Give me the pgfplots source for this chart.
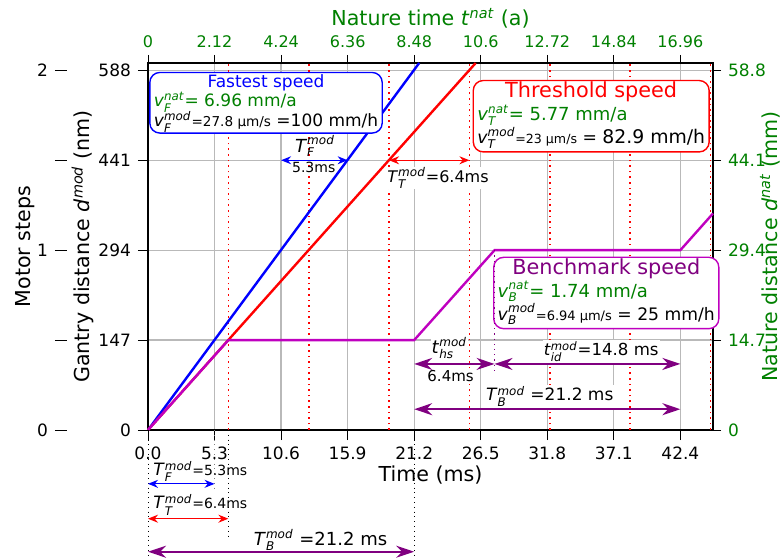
\documentclass[border=0pt]{standalone}
\usepackage{amsmath}
\usepackage{fontspec}
\setmainfont{DejaVu Sans}
\usepackage{pgfplots}
\pgfplotsset{compat=1.18}
\usetikzlibrary{arrows.meta}

\definecolor{mgreen}{RGB}{0,128,0}
\definecolor{mpurple}{RGB}{128,0,128}
\definecolor{mmag}{RGB}{191,0,191}
\newcommand{\fs}[1]{\fontsize{#1}{#1}\selectfont}
\newcommand{\sym}[3]{\textit{#1}$^{\textit{#3}}_{\textit{#2}}$}
% speed box: title colour, title, green line, black line
\newcommand{\speedbox}[4]{%
  \begin{tabular}{@{}l@{}}
  \multicolumn{1}{@{}c@{}}{\color{#1}#2}\\
  \smash{\color{mgreen}#3}\\
  \smash{#4}
  \end{tabular}}

\tikzset{
  sa/.style={{Stealth[length=5pt,width=4pt]}-{Stealth[length=5pt,width=4pt]}, line width=0.6pt},
  pa/.style={{Stealth[length=9pt,width=6pt]}-{Stealth[length=9pt,width=6pt]}, line width=0.9pt, mpurple},
  box/.style={rounded corners=5pt, fill=white, line width=0.7pt,
    inner xsep=2pt, inner ysep=0.6pt, font=\fontsize{8.5}{9.7}\selectfont},
  bigbox/.style={box, font=\fontsize{9}{11.5}\selectfont},
  lab/.style={font=\fs{10.3}},
}

\begin{document}
\begin{tikzpicture}
\path[use as bounding box] (-74pt,-63.5pt) rectangle (316pt,215pt);

% motor steps (offset left axis)
\begin{axis}[
  at={(-40.5pt,0pt)}, anchor=south west,
  scale only axis, width=10pt, height=183.5pt,
  xmin=0, xmax=1, ymin=0, ymax=600,
  hide x axis, axis y line*=left,
  y axis line style={draw=none},
  ytick={0,147,294,441,588}, yticklabels={0,,1,,2},
  tick align=outside, major tick length=6pt,
  tick style={black, line width=0.5pt},
  yticklabel style={font=\fs{8.5}},
  /pgf/number format/assume math mode=true,
]
\end{axis}

% nature axis (top / right)
\begin{axis}[
  scale only axis, width=282.5pt, height=183.5pt,
  xmin=0, xmax=18, ymin=0, ymax=60,
  axis x line*=top, axis y line*=right,
  axis line style={line width=0.9pt},
  xtick={0,2.12,4.24,6.36,8.48,10.6,12.72,14.84,16.96},
  xticklabels={0,2.12,4.24,6.36,8.48,10.6,12.72,14.84,16.96},
  ytick={0,14.7,29.4,44.1,58.8},
  yticklabels={0,14.7,29.4,44.1,58.8},
  tick align=outside, major tick length=4pt,
  tick style={black, line width=0.5pt},
  xticklabel style={font=\fs{8}, text=mgreen},
  yticklabel style={font=\fs{8.5}, text=mgreen},
  /pgf/number format/assume math mode=true,
]
\end{axis}

% main axis
\begin{axis}[
  scale only axis, width=282.5pt, height=183.5pt,
  xmin=0, xmax=45, ymin=0, ymax=600,
  xtick={0,5.3,10.6,15.9,21.2,26.5,31.8,37.1,42.4},
  xticklabels={0.0,5.3,10.6,15.9,21.2,26.5,31.8,37.1,42.4},
  ytick={0,147,294,441,588},
  xtick pos=bottom, ytick pos=left,
  tick align=outside, major tick length=5pt,
  tick style={black, line width=0.5pt},
  axis line style={line width=0.9pt},
  grid=major, grid style={gray!55, line width=0.6pt},
  ticklabel style={font=\fs{8.5}},
  /pgf/number format/assume math mode=true,
  clip=false,
]
\pgfplotsinvokeforeach{6.4,12.8,19.2,25.6,32.0,38.4,44.8}{
  \draw[red, dotted, line width=0.8pt] (axis cs:#1,0) -- (axis cs:#1,600);
}
\addplot[blue, line width=1.2pt] coordinates {(0,0) (21.6,600)};
\addplot[red, line width=1.2pt] coordinates {(0,0) (26.1,600)};
\addplot[mmag, line width=1.2pt] coordinates {
  (0,0) (6.4,147) (21.2,147) (27.6,294) (42.4,294) (45,354)};

% axis labels
\node[lab] at ([yshift=-22.5pt]rel axis cs:0.5,0) {Time (ms)};
\node[lab, rotate=90] at ([xshift=-32.5pt]rel axis cs:0,0.5) {Gantry distance \textit{d}$^{\textit{mod}}$ (nm)};
\node[lab, rotate=90] at ([xshift=-61.5pt]rel axis cs:0,0.5) {Motor steps};
\node[lab, text=mgreen] at ([yshift=22.5pt]rel axis cs:0.5,1) {Nature time \textit{t}$^{\textit{nat}}$ (a)};
\node[lab, text=mgreen, rotate=90] at ([xshift=28.5pt]rel axis cs:1,0.5) {Nature distance \textit{d}$^{\textit{nat}}$ (mm)};

% boxes
\node[box, draw=blue] at (axis cs:9.4,535) {\speedbox{blue}{Fastest speed}
  {\sym{v}{F}{nat}= 6.96 mm/a}{\sym{v}{F}{mod}{\fs{6.8}=27.8 µm/s} =100 mm/h}};
\node[bigbox, draw=red] at (axis cs:35.3,513) {\speedbox{red}{\fs{10.4}Threshold speed}
  {\sym{v}{T}{nat}= 5.77 mm/a}{\fs{8.6}\sym{v}{T}{mod}{\fs{6.3}=23 µm/s} = \fs{9.4}82.9 mm/h}};
\node[bigbox, draw=mmag] at (axis cs:36.5,224) {\speedbox{mpurple}{\fs{10.4}Benchmark speed}
  {\sym{v}{B}{nat}= 1.74 mm/a}{\fs{8.6}\sym{v}{B}{mod}{\fs{6.5}=6.94 µm/s} = 25 mm/h}};

% in-axis labels
\node[font=\fs{9}, inner sep=0pt] at (axis cs:13.3,464) {\sym{T}{F}{mod}};
\node[font=\fs{7}, inner sep=0pt] at (axis cs:13.2,430) {5.3ms};
\node[font=\fs{8}, fill=white, inner sep=0.5pt] at (axis cs:23.1,412) {\sym{T}{T}{mod}=6.4ms};
\node[font=\fs{9}, fill=white, inner sep=0.5pt] at (axis cs:24,134) {\sym{t}{hs}{mod}};
\node[font=\fs{7.5}, fill=white, inner sep=0.5pt] at (axis cs:24.1,88) {6.4ms};
\node[font=\fs{8.3}, fill=white, inner sep=0.5pt] at (axis cs:36.1,128) {\sym{t}{id}{mod}=14.8 ms};
\node[font=\fs{8.5}, fill=white, inner sep=0.5pt] at (axis cs:32,55) {\sym{T}{B}{mod} =21.2 ms};

% in-axis arrows
\draw[sa, blue] (axis cs:10.6,441) -- (axis cs:15.9,441);
\draw[sa, red] (axis cs:19.2,441) -- (axis cs:25.6,441);
\draw[mpurple, dotted, line width=0.6pt] (axis cs:27.6,294) -- (axis cs:27.6,98);
\draw[pa] (axis cs:21.2,108) -- (axis cs:27.6,108);
\draw[pa] (axis cs:27.6,108) -- (axis cs:42.4,108);
\draw[pa] (axis cs:21.2,34) -- (axis cs:42.4,34);

% below the axis
\draw[black, dotted, line width=0.4pt] (axis cs:0,0) -- (axis cs:0,-207);
\draw[gray, dotted, line width=0.4pt] (axis cs:5.3,0) -- (axis cs:5.3,-98);
\draw[black, dotted, line width=0.4pt] (axis cs:6.4,0) -- (axis cs:6.4,-175);
\draw[black, dotted, line width=0.4pt] (axis cs:21.2,0) -- (axis cs:21.2,-207);
\node[anchor=west, font=\fs{8.5}, inner sep=0pt] at (axis cs:0.4,-68) {\sym{T}{F}{mod}\fs{7}=5.3ms};
\draw[sa, blue] (axis cs:0,-88) -- (axis cs:5.3,-88);
\node[anchor=west, font=\fs{8.5}, inner sep=0pt] at (axis cs:0.4,-122) {\sym{T}{T}{mod}\fs{7}=6.4ms};
\draw[sa, red] (axis cs:0,-145) -- (axis cs:6.4,-145);
\node[anchor=west, font=\fs{9}, inner sep=0pt] at (axis cs:8.4,-179) {\sym{T}{B}{mod} =21.2 ms};
\draw[pa] (axis cs:0,-199) -- (axis cs:21.2,-199);
\end{axis}
\end{tikzpicture}
\end{document}
